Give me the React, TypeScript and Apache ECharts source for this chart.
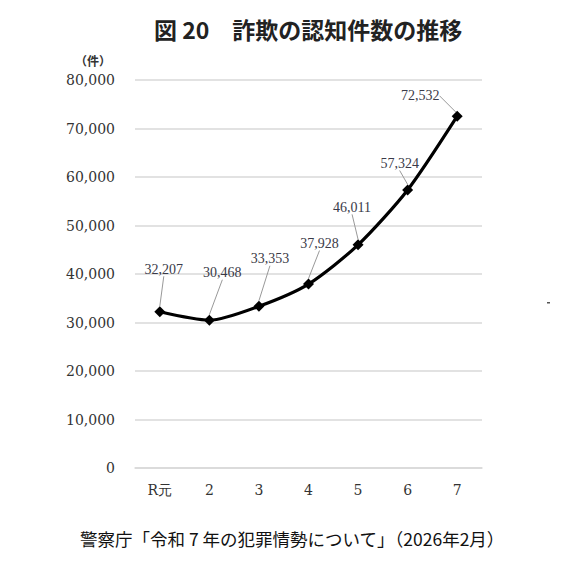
import React, { useEffect, useRef } from "react";
import * as echarts from "echarts";

const categories = ["R元", "2", "3", "4", "5", "6", "7"];
const counts = [32207, 30468, 33353, 37928, 46011, 57324, 72532];
const yTicks = [0, 10000, 20000, 30000, 40000, 50000, 60000, 70000, 80000];

const labelOffsets = [
  [4, -30],
  [13, -35],
  [11, -35],
  [11, -28],
  [-6, -25],
  [-8, -14],
  [-37, -8],
];

export default function App() {
  const ref = useRef<HTMLDivElement>(null);
  useEffect(() => {
    if (!ref.current) return;
    const chart = echarts.init(ref.current, null, { renderer: "svg" });
    chart.setOption({
      animation: false,
      backgroundColor: "#ffffff",
      title: {
        text: "図 20　詐欺の認知件数の推移",
        left: 149,
        top: 12,
        textStyle: {
          fontFamily: "Noto Sans CJK JP",
          fontWeight: "bold",
          fontSize: 23,
          color: "#222",
        },
      },
      graphic: [
        {
          type: "text",
          left: 75,
          top: 54,
          style: {
            text: "（件）",
            fontFamily: "Noto Sans CJK JP",
            fontWeight: "bold",
            fontSize: 12,
            fill: "#333",
          },
        },
        {
          type: "text",
          left: 80,
          top: 530,
          style: {
            text: "警察庁「令和 7 年の犯罪情勢について」（2026年2月）",
            fontFamily: "Noto Sans CJK JP",
            fontSize: 17.5,
            fill: "#111",
          },
        },
        {
          type: "rect",
          left: 547,
          top: 302,
          shape: { width: 3, height: 1.5 },
          style: { fill: "#555" },
        },
      ],
      grid: { left: 135, right: 88, top: 80, bottom: 109 },
      xAxis: {
        type: "category",
        data: categories,
        boundaryGap: true,
        axisLine: { show: true, lineStyle: { color: "#d9d9d9", width: 1.5 } },
        axisTick: { show: false },
        axisLabel: {
          margin: 15,
          fontFamily: "DejaVu Serif",
          fontSize: 14,
          color: "#333",
        },
      },
      yAxis: {
        type: "value",
        min: yTicks[0],
        max: yTicks[yTicks.length - 1],
        interval: 10000,
        axisLine: { show: false },
        axisTick: { show: false },
        splitLine: { lineStyle: { color: "#d9d9d9", width: 1.5 } },
        axisLabel: {
          margin: 20,
          fontFamily: "DejaVu Serif",
          fontSize: 14,
          color: "#333",
          formatter: (v: number) => v.toLocaleString("en-US"),
        },
      },
      series: [
        {
          type: "line",
          data: counts,
          smooth: 0.25,
          symbol: "diamond",
          symbolSize: 11,
          itemStyle: { color: "#000" },
          lineStyle: { color: "#000", width: 3.2 },
          label: {
            show: true,
            position: "top",
            distance: 0,
            fontFamily: "Liberation Serif",
            fontSize: 14,
            color: "#3a3a48",
            formatter: (p: any) => Number(p.value).toLocaleString("en-US"),
          },
          labelLine: {
            show: true,
            lineStyle: { color: "#999", width: 1 },
          },
          labelLayout: (p: any) => ({
            dx: labelOffsets[p.dataIndex][0],
            dy: labelOffsets[p.dataIndex][1],
          }),
        },
      ],
    });
    return () => chart.dispose();
  }, []);
  return (
    <div
      ref={ref}
      style={{ position: "absolute", left: 0, top: 0, width: 570, height: 577 }}
    />
  );
}
